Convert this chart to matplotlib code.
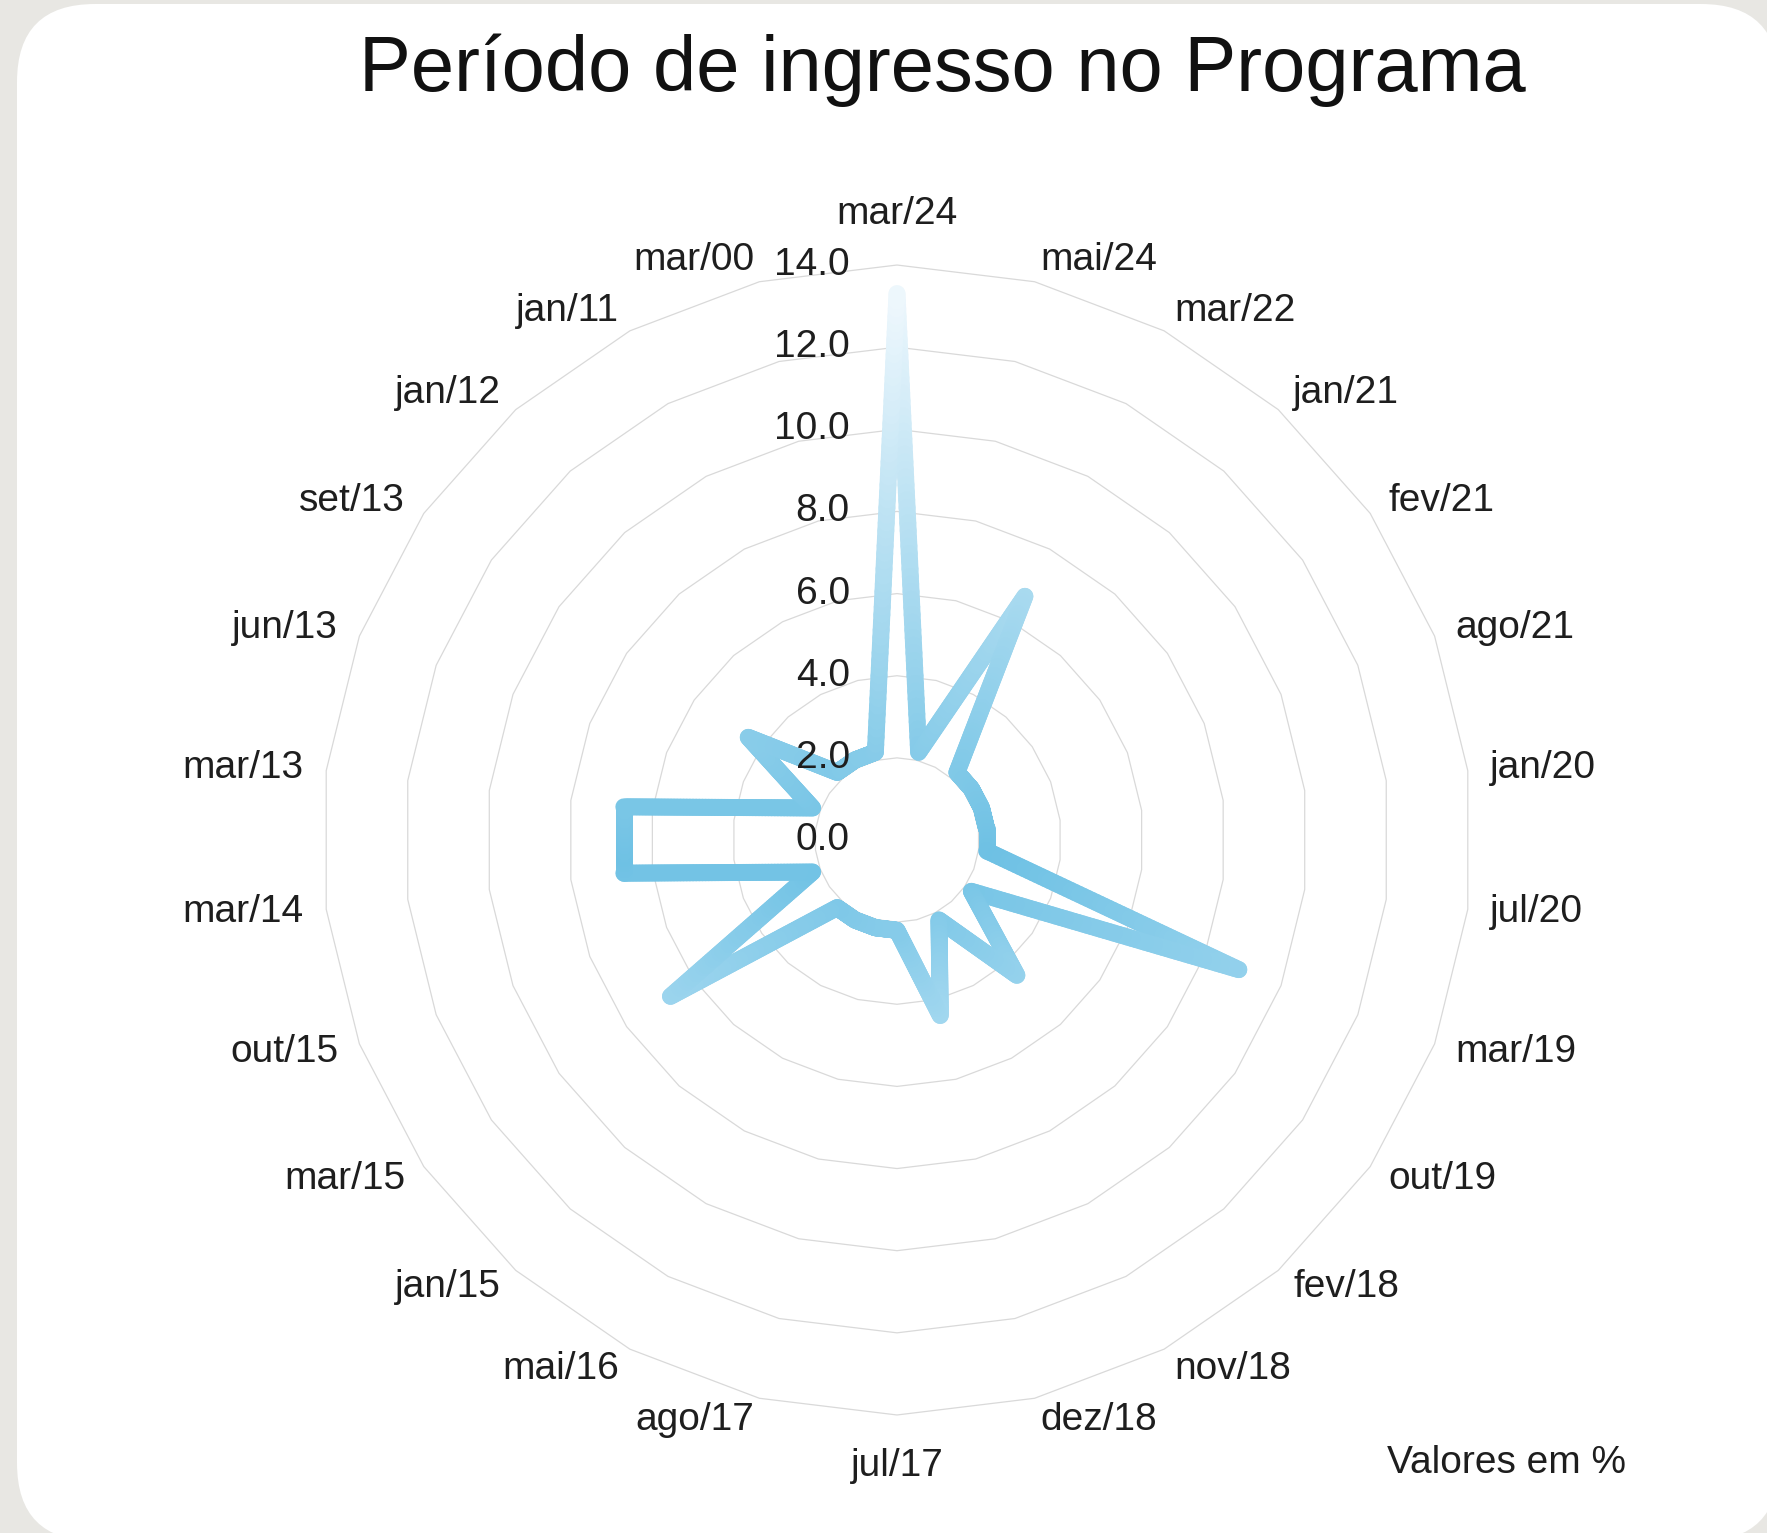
import numpy as np
import matplotlib
matplotlib.use("Agg")
import matplotlib.pyplot as plt
from matplotlib.collections import LineCollection
from matplotlib.patches import FancyBboxPatch, Polygon
from matplotlib.colors import LinearSegmentedColormap

plt.rcParams['font.family'] = ['Liberation Sans', 'DejaVu Sans']

# ---- data ----
categories = ["mar/24", "mai/24", "mar/22", "jan/21", "fev/21", "ago/21", "jan/20",
              "jul/20", "mar/19", "out/19", "fev/18", "nov/18", "dez/18", "jul/17",
              "ago/17", "mai/16", "jan/15", "mar/15", "out/15", "mar/14", "mar/13",
              "jun/13", "set/13", "jan/12", "jan/11", "mar/00"]
values = [13.3, 2.2, 6.7, 2.2, 2.2, 2.2, 2.2,
          2.2, 8.9, 2.2, 4.4, 2.2, 4.4, 2.2,
          2.2, 2.2, 2.2, 6.7, 2.2, 6.7, 6.7,
          2.2, 4.4, 2.2, 2.2, 2.2]
ticks = [0.0, 2.0, 4.0, 6.0, 8.0, 10.0, 12.0, 14.0]
title = "Período de ingresso no Programa"
note = "Valores em %"

W, H, DPI = 1767, 1533, 100
fig = plt.figure(figsize=(W / DPI, H / DPI), dpi=DPI, facecolor="#e8e7e3")

# white rounded card
card = FancyBboxPatch((0.17, -0.08), 17.62, 15.37,
                      boxstyle="round,pad=0,rounding_size=0.78",
                      transform=fig.dpi_scale_trans, facecolor="white",
                      edgecolor="none", zorder=0)
fig.add_artist(card)

# axes spanning figure, 41.07 px per unit, center at (897, 840 from top)
scale = 41.07
cx, cy_top = 897, 840
ax = fig.add_axes([0, 0, 1, 1])
ax.set_xlim(-cx / scale, (W - cx) / scale)
ax.set_ylim(-(H - cy_top) / scale, cy_top / scale)
ax.axis("off")
ax.patch.set_alpha(0)

n = len(categories)
theta = np.arange(n) * 2 * np.pi / n
sx, sy = np.sin(theta), np.cos(theta)

# grid rings
for t in ticks[1:]:
    poly = Polygon(np.column_stack([t * sx, t * sy]), closed=True, fill=False,
                   edgecolor="#d9d9d9", linewidth=0.9, zorder=1)
    ax.add_patch(poly)

# gradient line
v = np.array(values)
px = np.append(v * sx, v[0] * sx[0])
py = np.append(v * sy, v[0] * sy[0])
pts = []
steps = 60
for i in range(n):
    for k in range(steps):
        f = k / steps
        pts.append((px[i] + (px[i + 1] - px[i]) * f, py[i] + (py[i + 1] - py[i]) * f))
pts.append((px[0], py[0]))
pts = np.array(pts)
segs = np.stack([pts[:-1], pts[1:]], axis=1)
mid_y = segs[:, :, 1].mean(axis=1)
cmap = LinearSegmentedColormap.from_list(
    "g", [(0.0, "#a6d9f0"), (0.23, "#6ec1e4"), (1.0, "#f0f8fd")])
ymin, ymax = -4.6, 13.5
colors = cmap(np.clip((mid_y - ymin) / (ymax - ymin), 0, 1))
lc = LineCollection(segs, colors=colors, linewidths=12.2, capstyle="round",
                    joinstyle="round", zorder=3)
ax.add_collection(lc)

FS = 28
# radial tick labels
for t in ticks:
    ax.text(-1.15, t, f"{t:.1f}", ha="right", va="center", fontsize=FS,
            color="#1e1e1e", zorder=5)

# category labels
for i, lab in enumerate(categories):
    s, c = sx[i], sy[i]
    if abs(s) < 1e-6:
        r = 15.25
        ha = "center"
    else:
        r = 14.55
        ha = "left" if s > 0 else "right"
    ax.text(r * s, r * c, lab, ha=ha, va="center", fontsize=FS, color="#1e1e1e",
            zorder=5)

fig.text(942 / W, 1 - 70 / H, title, ha="center", va="center", fontsize=56,
         color="#111111")
fig.text(1626 / W, 1 - 1463 / H, note, ha="right", va="center", fontsize=FS,
         color="#1e1e1e")

fig.savefig("out.png", dpi=DPI, facecolor=fig.get_facecolor())
